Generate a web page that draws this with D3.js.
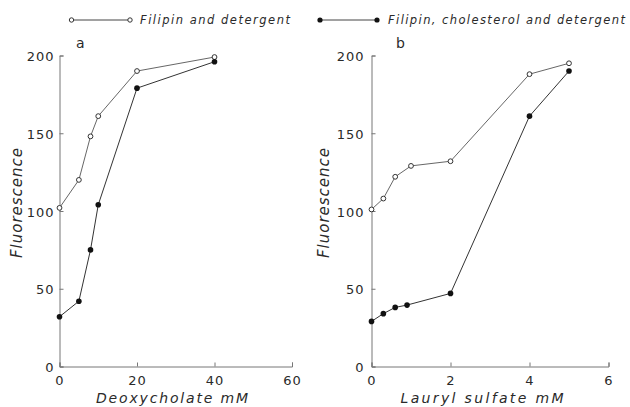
<!DOCTYPE html>
<html><head><meta charset="utf-8">
<script src="https://cdn.jsdelivr.net/npm/d3@7/dist/d3.min.js"></script>
<style>
body{margin:0;background:#fff;}
svg{display:block;}
text{font-family:"DejaVu Sans",sans-serif;fill:#2a2a2a;}
</style></head><body>
<script>
// Panel a: deoxycholate
const deoxyOpenX = [0, 5, 8, 10, 20, 40];
const deoxyOpenY = [102, 120, 148, 161, 190, 199];
const deoxyFilledX = [0, 5, 8, 10, 20, 40];
const deoxyFilledY = [32, 42, 75, 104, 179, 196];
// Panel b: lauryl sulfate
const laurylOpenX = [0, 0.3, 0.6, 1, 2, 4, 5];
const laurylOpenY = [101, 108, 122, 129, 132, 188, 195];
const laurylFilledX = [0, 0.3, 0.6, 0.9, 2, 4, 5];
const laurylFilledY = [29, 34, 38, 39.5, 47, 161, 190];
const yTicks = [0, 50, 100, 150, 200];
const xTicksA = [0, 20, 40, 60];
const xTicksB = [0, 2, 4, 6];
const legendLabels = ["Filipin and detergent", "Filipin, cholesterol and detergent"];

const W = 630, H = 407;
const svg = d3.select("body").append("svg").attr("width", W).attr("height", H);
const lineCol = "#555";

function zip(xs, ys){ return xs.map((x,i)=>[x, ys[i]]); }

function panel(cfg){
  const x = d3.scaleLinear().domain(cfg.xDomain).range(cfg.xRange);
  const y = d3.scaleLinear().domain([0, 200]).range([366.5, 55.5]);
  const g = svg.append("g");
  // y axis
  const ya = g.append("g").attr("transform", `translate(${cfg.xRange[0]},0)`)
    .call(d3.axisLeft(y).tickValues(yTicks).tickFormat(d3.format("d")).tickSize(-4).tickPadding(cfg.yPad));
  ya.select(".domain").attr("stroke", "#777").attr("stroke-width", 1);
  ya.selectAll(".tick line").attr("stroke", "#777");
  ya.selectAll(".tick text").style("font-size", "13px").attr("fill", "#333")
    .style("letter-spacing", "1px").attr("dy", "0.4em");
  // x axis
  const xa = g.append("g").attr("transform", `translate(0,${y(0)})`)
    .call(d3.axisBottom(x).tickValues(cfg.xTicks).tickFormat(d3.format("d")).tickSize(-4).tickPadding(9));
  xa.select(".domain").attr("stroke", "#777").attr("stroke-width", 1);
  xa.selectAll(".tick line").attr("stroke", "#777");
  xa.selectAll(".tick text").style("font-size", "13px").attr("fill", "#333")
    .style("letter-spacing", "1px");
  // axis titles
  g.append("text").attr("x", cfg.xTitleX).attr("y", 403)
    .attr("text-anchor", "middle").style("font-size", "14px").style("font-style", "italic")
    .attr("textLength", cfg.xTitleLen).attr("lengthAdjust", "spacing")
    .text(cfg.xTitle);
  g.append("text").attr("transform", `translate(${cfg.yTitleX},203) rotate(-90)`)
    .attr("text-anchor", "middle").style("font-size", "15px").style("font-style", "italic")
    .attr("textLength", 110).attr("lengthAdjust", "spacing")
    .text("Fluorescence");
  g.append("text").attr("x", cfg.letterX).attr("y", 48).style("font-size", "14px")
    .text(cfg.letter);
  const line = d3.line().x(d=>x(d[0])).y(d=>y(d[1]));
  const open = zip(cfg.openX, cfg.openY), filled = zip(cfg.filledX, cfg.filledY);
  g.append("path").datum(open).attr("d", line).attr("fill", "none").attr("stroke", lineCol).attr("stroke-width", 0.9);
  g.append("path").datum(filled).attr("d", line).attr("fill", "none").attr("stroke", "#333").attr("stroke-width", 1);
  g.selectAll(".o").data(open).join("circle").attr("cx", d=>x(d[0])).attr("cy", d=>y(d[1]))
    .attr("r", 2.4).attr("fill", "#fff").attr("stroke", "#333").attr("stroke-width", 1);
  g.selectAll(".f").data(filled).join("circle").attr("cx", d=>x(d[0])).attr("cy", d=>y(d[1]))
    .attr("r", 2.8).attr("fill", "#111");
}

panel({xDomain:[0,60], xRange:[59.5,292], xTicks:xTicksA, yPad:5,
  openX:deoxyOpenX, openY:deoxyOpenY, filledX:deoxyFilledX, filledY:deoxyFilledY,
  xTitle:"Deoxycholate  mM", xTitleX:172, xTitleLen:152, yTitleX:22, letter:"a", letterX:76});
panel({xDomain:[0,6], xRange:[371.5,608.5], xTicks:xTicksB, yPad:7,
  openX:laurylOpenX, openY:laurylOpenY, filledX:laurylFilledX, filledY:laurylFilledY,
  xTitle:"Lauryl  sulfate  mM", xTitleX:482, xTitleLen:163, yTitleX:329, letter:"b", letterX:396});

// legend
const leg = svg.append("g");
const legItems = [
  {x1:71.5, x2:130, tx:140, len:150, open:true},
  {x1:320, x2:377, tx:388, len:237, open:false}
];
legItems.forEach((it,i)=>{
  leg.append("line").attr("x1", it.x1).attr("x2", it.x2).attr("y1", 20).attr("y2", 20)
    .attr("stroke", "#444").attr("stroke-width", 1);
  [it.x1, it.x2].forEach(cx=>{
    leg.append("circle").attr("cx", cx).attr("cy", 20).attr("r", it.open?2.2:2.6)
      .attr("fill", it.open?"#fff":"#111").attr("stroke", it.open?"#333":"none");
  });
  leg.append("text").attr("x", it.tx).attr("y", 24).style("font-size", "11.5px")
    .style("font-style", "italic").attr("textLength", it.len).attr("lengthAdjust", "spacing")
    .text(legendLabels[i]);
});
</script>
</body></html>
